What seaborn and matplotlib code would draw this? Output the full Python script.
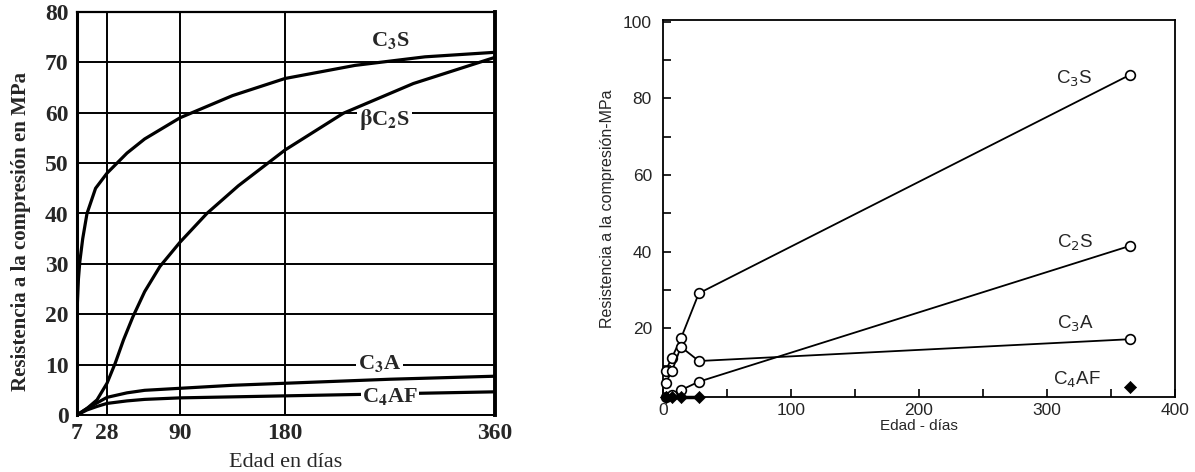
import numpy as np
import pandas as pd
import seaborn as sns
import matplotlib.pyplot as plt
from matplotlib.ticker import MultipleLocator

# --- panel izquierdo: curvas de resistencia (MPa) vs edad (días)
c3s_days = [7, 8, 9, 11, 14, 20, 28, 45, 60, 90, 135, 180, 240, 300, 360]
c3s_mpa = [20.5, 27, 30.5, 35, 40, 45, 48, 52, 54.8, 59, 63.4, 66.8, 69.4, 71.1, 72]

c2s_days = [7, 14, 21, 28, 35, 42, 50, 60, 73, 90, 113, 140, 180, 230, 290, 360]
c2s_mpa = [0, 1.3, 3, 6.3, 10.3, 14.9, 19.5, 24.5, 29.5, 34.3, 40, 45.5, 52.6, 59.9, 65.8, 71]

c3a_days = [7, 14, 21, 28, 45, 60, 90, 135, 180, 270, 360]
c3a_mpa = [0, 1.3, 2.4, 3.5, 4.4, 4.9, 5.3, 5.9, 6.3, 7.1, 7.7]

c4af_days = [7, 14, 21, 28, 45, 60, 90, 135, 180, 270, 360]
c4af_mpa = [0, 1.0, 1.7, 2.3, 2.8, 3.1, 3.4, 3.6, 3.8, 4.2, 4.6]

left_xticks = [7, 28, 90, 180, 360]
left_yticks = [0, 10, 20, 30, 40, 50, 60, 70, 80]

# --- panel derecho: puntos medidos
ages = [2, 7, 14, 28, 365]
r_c3s = [8.8, 12.3, 17.3, 29.1, 86.2]
r_c2s = [2.0, 2.6, 3.8, 6.0, 41.5]
r_c3a = [5.6, 8.8, 15.1, 11.4, 17.1]
r_c4af = [2.0, 2.0, 2.0, 2.0, 4.6]

sns.set_style('white')
plt.rcParams['font.family'] = ['Liberation Sans', 'DejaVu Sans']

fig = plt.figure(figsize=(11.95, 4.72), dpi=100)
W, H = 1195, 472


def px_axes(left, right, top, bottom):
    return fig.add_axes([left / W, (H - bottom) / H, (right - left) / W, (bottom - top) / H])


# ---------------- izquierda
ax1 = px_axes(77, 495, 12, 415)

# escala del eje x: las marcas del original no están igualmente espaciadas
day_ext = [-1000, 7, 28, 90, 180, 360, 5000]
pix_ext = [-1007 * 1.184, 0, 30, 103, 208, 418, 418 + 4640 * 1.184]


def fwd(x):
    return np.interp(x, day_ext, pix_ext)


def inv(p):
    return np.interp(p, pix_ext, day_ext)


ax1.set_xscale('function', functions=(fwd, inv))

curves = [(c3s_days, c3s_mpa), (c2s_days, c2s_mpa), (c3a_days, c3a_mpa), (c4af_days, c4af_mpa)]
for d, v in curves:
    sns.lineplot(x=d, y=v, ax=ax1, color='black', lw=2.3, estimator=None, sort=False, zorder=4)

ax1.set_xlim(7, 360)
ax1.set_ylim(0, 80)
ax1.set_xticks(left_xticks)
ax1.set_yticks(left_yticks)
ax1.grid(True, color='black', lw=1.4)
ax1.set_axisbelow(True)
for side, lw in [('left', 2.2), ('right', 2.8), ('top', 1.6), ('bottom', 1.4)]:
    ax1.spines[side].set_visible(True)
    ax1.spines[side].set_color('black')
    ax1.spines[side].set_linewidth(lw)
ax1.tick_params(length=0, labelsize=17, pad=6)
for lab in ax1.get_xticklabels() + ax1.get_yticklabels():
    lab.set_fontfamily(['Liberation Serif', 'DejaVu Serif'])
    lab.set_fontweight('bold')
ax1.set_xlabel('Edad en días', family=['Liberation Serif', 'DejaVu Serif'], fontsize=16, labelpad=6)
ax1.set_ylabel('Resistencia a la compresión en MPa', family=['Liberation Serif', 'DejaVu Serif'],
               fontsize=15, fontweight='bold')
ax1.yaxis.set_label_coords(-0.11, 0.455)

serif = dict(family=['Liberation Serif', 'DejaVu Serif'], fontsize=16, fontweight='bold',
             math_fontfamily='stix', ha='center', va='center')
box = dict(facecolor='white', edgecolor='none', pad=1.5)
ax1.text(270, 74.4, r'C$_\mathbf{3}$S', zorder=3, **serif)
ax1.text(265, 58.7, r'$\mathbf{\beta}$C$_\mathbf{2}$S', zorder=3, bbox=box, **serif)
ax1.text(261, 10.3, r'C$_\mathbf{3}$A', zorder=3, bbox=box, **serif)
ax1.text(270, 3.6, r'C$_\mathbf{4}$AF', zorder=5, bbox=dict(facecolor='white', edgecolor='none', pad=0.5), **serif)

# ---------------- derecha
ax2 = px_axes(663, 1175, 20, 397)
for v in [r_c3s, r_c2s, r_c3a]:
    sns.lineplot(x=ages, y=v, ax=ax2, color='black', lw=1.3, marker='o', markersize=7,
                 markerfacecolor='white', markeredgecolor='black', markeredgewidth=1.2,
                 estimator=None, sort=False, clip_on=False, zorder=3)
sns.lineplot(x=ages[:4], y=r_c4af[:4], ax=ax2, color='black', lw=2.5, estimator=None,
             sort=False, clip_on=False, zorder=3)
sns.scatterplot(x=ages, y=r_c4af, ax=ax2, color='black', marker='D', s=38,
                edgecolor='black', clip_on=False, zorder=4)

ax2.set_xlim(0, 400)
ax2.set_ylim(2, 100.5)
ax2.xaxis.set_major_locator(MultipleLocator(100))
ax2.xaxis.set_minor_locator(MultipleLocator(50))
ax2.yaxis.set_major_locator(MultipleLocator(20))
ax2.yaxis.set_minor_locator(MultipleLocator(10))
for s in ax2.spines.values():
    s.set_visible(True)
    s.set_color('black')
    s.set_linewidth(1.3)
ax2.tick_params(which='both', direction='in', length=6, width=1.2, color='black',
                bottom=True, left=True, top=False, right=False)
ax2.tick_params(axis='both', labelsize=12.5)
ax2.tick_params(axis='y', pad=8)
ax2.tick_params(axis='x', pad=4)
ax2.set_xlabel('Edad - días', fontsize=11, labelpad=1)
ax2.set_ylabel('Resistencia a la compresión-MPa', fontsize=11.5, labelpad=6)

sans = dict(fontsize=13.5, math_fontfamily='dejavusans', ha='center', va='center')
ax2.text(321, 85, r'C$_3$S', **sans)
ax2.text(322, 42.2, r'C$_2$S', **sans)
ax2.text(322, 21, r'C$_3$A', **sans)
ax2.text(323, 6.4, r'C$_4$AF', **sans)

fig.savefig('out.png', dpi=100)
